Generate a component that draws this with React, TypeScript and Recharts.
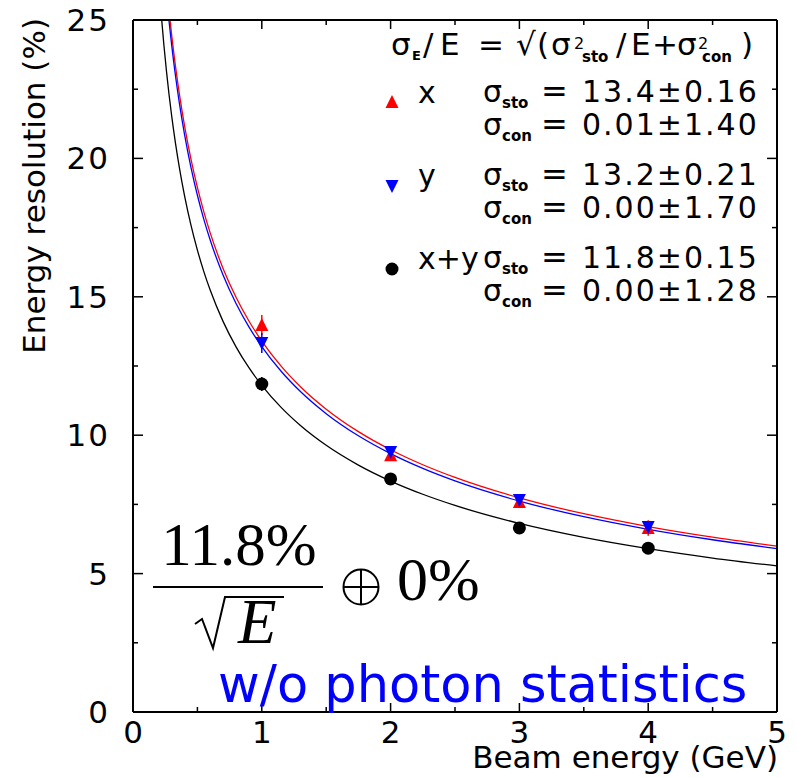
import React from 'react';
import { ComposedChart, Line, Scatter, XAxis, YAxis, ErrorBar } from 'recharts';

// beam energies (GeV) and measured resolution (%)
const beamEnergy = [1, 2, 3, 4];
const resX = [13.98, 9.28, 7.59, 6.65];
const errX = [0.36, 0.2, 0.16, 0.28];
const resY = [13.33, 9.39, 7.66, 6.68];
const errY = [0.36, 0.2, 0.16, 0.2];
const resXY = [11.85, 8.42, 6.65, 5.92];
const errXY = [0.25, 0.15, 0.12, 0.1];

// fit results for x, y and x+y: sigma/E = sqrt(sto^2/E + con^2)
const fitNames = ['x', 'y', 'x+y'];
const fitColors = ['#ff0000', '#0000ff', '#000000'];
const stoFit = [13.4, 13.2, 11.8];
const stoErr = [0.16, 0.21, 0.15];
const conFit = [0.01, 0.0, 0.0];
const conErr = [1.4, 1.7, 1.28];

// energies where the fit curves are sampled
const fitGrid = [
  0.2, 0.22, 0.24, 0.26, 0.28, 0.3, 0.33, 0.36, 0.4, 0.45, 0.5, 0.55, 0.6, 0.7, 0.8, 0.9,
  1, 1.15, 1.3, 1.5, 1.75, 2, 2.25, 2.5, 3, 3.5, 4, 4.5, 5,
];

const xTicks = [0, 0.5, 1, 1.5, 2, 2.5, 3, 3.5, 4, 4.5, 5];
const yTicks = [0, 2.5, 5, 7.5, 10, 12.5, 15, 17.5, 20, 22.5, 25];

const points = (res: number[], err: number[]) =>
  beamEnergy.map((e, i) => ({ e, r: res[i], err: err[i] }));

const fitCurves = stoFit.map((sto, k) =>
  fitGrid.map((e) => ({ e, r: Math.sqrt((sto * sto) / e + conFit[k] * conFit[k]) })),
);

const FONT = '"DejaVu Sans", sans-serif';
const SERIF = '"Liberation Serif", serif';

const BottomTick = ({ x, y, payload }: any) => {
  const major = Number.isInteger(payload.value);
  return (
    <g>
      <line x1={x} x2={x} y1={y} y2={y - (major ? 9 : 5)} stroke="#000" strokeWidth={1.5} />
      {major && (
        <text x={x} y={y + 31} textAnchor="middle" fontSize={31} fontFamily={FONT} fill="#000">
          {payload.value}
        </text>
      )}
    </g>
  );
};

const TopTick = ({ x, y, payload }: any) => {
  const major = Number.isInteger(payload.value);
  return <line x1={x} x2={x} y1={y} y2={y + (major ? 9 : 5)} stroke="#000" strokeWidth={1.5} />;
};

const LeftTick = ({ x, y, payload }: any) => {
  const major = payload.value % 5 === 0;
  return (
    <g>
      <line x1={x} x2={x + (major ? 10 : 5)} y1={y} y2={y} stroke="#000" strokeWidth={1.5} />
      {major && (
        <text
          x={x - 23}
          y={y + 11}
          textAnchor="end"
          fontSize={31}
          letterSpacing={2}
          fontFamily={FONT}
          fill="#000"
        >
          {payload.value}
        </text>
      )}
    </g>
  );
};

const RightTick = ({ x, y, payload }: any) => {
  const major = payload.value % 5 === 0;
  return <line x1={x} x2={x - (major ? 10 : 5)} y1={y} y2={y} stroke="#000" strokeWidth={1.5} />;
};

const TriangleUp = ({ cx, cy }: any) => (
  <polygon points={`${cx},${cy - 7} ${cx - 6.5},${cy + 6} ${cx + 6.5},${cy + 6}`} fill="#ff0000" />
);
const TriangleDown = ({ cx, cy }: any) => (
  <polygon points={`${cx},${cy + 7} ${cx - 6.5},${cy - 6} ${cx + 6.5},${cy - 6}`} fill="#0000ff" />
);
const Dot = ({ cx, cy }: any) => <circle cx={cx} cy={cy} r={6.5} fill="#000" />;

const legendRows = [102, 185, 268];

function Legend() {
  const sub = { fontSize: 15, fontWeight: 700 } as const;
  const sup = { fontSize: 16 } as const;
  return (
    <g fontFamily={FONT} fill="#000">
      {/* sigma_E/E = sqrt(sigma^2_sto/E + sigma^2_con) */}
      <text fontSize={31}>
        <tspan x={391} y={55}>σ</tspan>
        <tspan x={412} y={60} fontSize={13} fontWeight={700}>E</tspan>
        <tspan x={423} y={55}>/</tspan>
        <tspan x={440} y={55}>E</tspan>
        <tspan x={478} y={55}>=</tspan>
        <tspan x={516} y={55}>√</tspan>
        <tspan x={537} y={55}>(</tspan>
        <tspan x={551} y={55}>σ</tspan>
        <tspan x={574} y={49} {...sup}>2</tspan>
        <tspan x={582} y={62} {...sub}>sto</tspan>
        <tspan x={616} y={55}>/</tspan>
        <tspan x={631} y={55}>E</tspan>
        <tspan x={652} y={55}>+</tspan>
        <tspan x={677} y={55}>σ</tspan>
        <tspan x={698} y={49} {...sup}>2</tspan>
        <tspan x={702} y={62} {...sub}>con</tspan>
        <tspan x={741} y={55}>)</tspan>
      </text>
      {legendRows.map((y, k) => (
        <g key={k}>
          {k === 0 && <TriangleUp cx={392} cy={y} />}
          {k === 1 && <TriangleDown cx={392} cy={y + 1} />}
          {k === 2 && <Dot cx={392} cy={y + 1} />}
          <text x={418} y={y + 1} fontSize={30}>{fitNames[k]}</text>
          <text x={483} y={y} fontSize={30}>
            σ<tspan {...sub} dy={6}>sto</tspan>
          </text>
          <text x={541} y={y} fontSize={32}>=</text>
          <text x={582} y={y} fontSize={30} letterSpacing={2}>
            {stoFit[k].toFixed(1)}±{stoErr[k].toFixed(2)}
          </text>
          <text x={483} y={y + 33} fontSize={30}>
            σ<tspan {...sub} dy={6}>con</tspan>
          </text>
          <text x={541} y={y + 33} fontSize={32}>=</text>
          <text x={582} y={y + 33} fontSize={30} letterSpacing={2}>
            {conFit[k].toFixed(2)}±{conErr[k].toFixed(2)}
          </text>
        </g>
      ))}
    </g>
  );
}

function Annotations() {
  return (
    <svg width={796} height={777} style={{ position: 'absolute', left: 0, top: 0, pointerEvents: 'none' }}>
      <Legend />
      {/* stochastic term over sqrt(E), combined with constant term */}
      <g fontFamily={SERIF} fill="#000">
        <text x={239} y={565} fontSize={61} textAnchor="middle">
          {stoFit[2].toFixed(1)}%
        </text>
        <line x1={153} x2={323} y1={587} y2={587} stroke="#000" strokeWidth={2} />
        <path d="M195,624 L202,619 L213,648 L225,597 L284,597" fill="none" stroke="#000" strokeWidth={2} />
        <text x={238} y={643} fontSize={63} fontStyle="italic">E</text>
        <circle cx={361} cy={587} r={17.5} fill="none" stroke="#000" strokeWidth={2} />
        <line x1={343.5} x2={378.5} y1={587} y2={587} stroke="#000" strokeWidth={2} />
        <line x1={361} x2={361} y1={569.5} y2={604.5} stroke="#000" strokeWidth={2} />
        <text x={397} y={600} fontSize={62}>{conFit[2].toFixed(0)}%</text>
      </g>
      <text x={218} y={702} fontSize={51} fontFamily={FONT} fill="#0000ff">
        w/o photon statistics
      </text>
      <text x={778} y={768} fontSize={31} fontFamily={FONT} textAnchor="end">
        Beam energy (GeV)
      </text>
      <text
        x={0}
        y={0}
        fontSize={31}
        fontFamily={FONT}
        textAnchor="end"
        transform="translate(45,18) rotate(-90)"
      >
        Energy resolution (%)
      </text>
    </svg>
  );
}

export default function App() {
  const series = [
    { data: points(resX, errX), color: '#ff0000', shape: TriangleUp },
    { data: points(resY, errY), color: '#0000ff', shape: TriangleDown },
    { data: points(resXY, errXY), color: '#000000', shape: Dot },
  ];

  return (
    <div style={{ position: 'absolute', left: 0, top: 0, width: 796, height: 777, background: '#fff' }}>
      <ComposedChart width={796} height={777} margin={{ top: 19, right: 18, bottom: 0, left: 0 }}>
        <XAxis
          type="number"
          dataKey="e"
          domain={[0, 5]}
          ticks={xTicks}
          interval={0}
          tickSize={0}
          tickMargin={0}
          tickLine={false}
          tick={(p: any) => <BottomTick {...p} />}
          axisLine={{ stroke: '#000', strokeWidth: 2 }}
          height={65}
          allowDataOverflow
        />
        <XAxis
          xAxisId="top"
          orientation="top"
          type="number"
          dataKey="e"
          domain={[0, 5]}
          ticks={xTicks}
          interval={0}
          tickSize={0}
          tickMargin={0}
          tickLine={false}
          tick={(p: any) => <TopTick {...p} />}
          axisLine={{ stroke: '#000', strokeWidth: 2 }}
          height={1}
          allowDataOverflow
        />
        <YAxis
          type="number"
          dataKey="r"
          domain={[0, 25]}
          ticks={yTicks}
          interval={0}
          tickSize={0}
          tickMargin={0}
          tickLine={false}
          tick={(p: any) => <LeftTick {...p} />}
          axisLine={{ stroke: '#000', strokeWidth: 2 }}
          width={133}
          allowDataOverflow
        />
        <YAxis
          yAxisId="right"
          orientation="right"
          type="number"
          domain={[0, 25]}
          ticks={yTicks}
          interval={0}
          tickSize={0}
          tickMargin={0}
          tickLine={false}
          tick={(p: any) => <RightTick {...p} />}
          axisLine={{ stroke: '#000', strokeWidth: 2 }}
          width={1}
          allowDataOverflow
        />

        {/* fit curves live on the top/right axes (same ranges as bottom/left) */}
        {fitCurves.map((curve, k) => (
          <Line
            key={`fit-${k}`}
            xAxisId="top"
            yAxisId="right"
            data={curve}
            dataKey="r"
            type="monotone"
            stroke={fitColors[k]}
            strokeWidth={1.3}
            dot={false}
            isAnimationActive={false}
          />
        ))}

        {series.map((s, k) => (
          <Scatter
            key={`pts-${k}`}
            data={s.data}
            dataKey="r"
            fill={s.color}
            shape={(p: any) => <s.shape {...p} />}
            isAnimationActive={false}
          >
            <ErrorBar dataKey="err" direction="y" width={0} stroke={s.color} strokeWidth={1.5} />
          </Scatter>
        ))}
      </ComposedChart>
      <Annotations />
    </div>
  );
}
